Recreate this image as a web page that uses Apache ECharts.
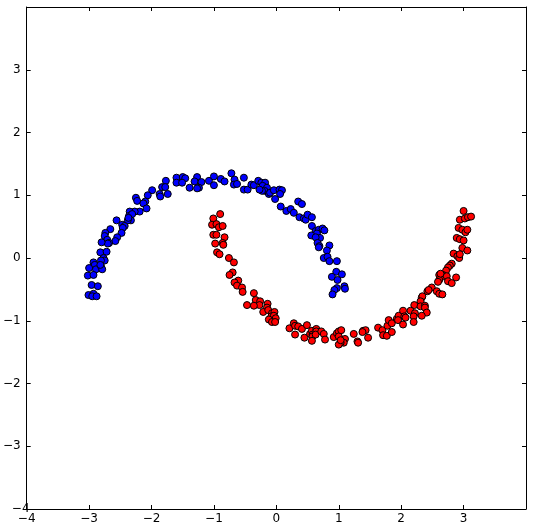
<!DOCTYPE html>
<html>
<head>
<meta charset="utf-8">
<script src="https://cdn.jsdelivr.net/npm/echarts@6/dist/echarts.min.js"></script>
<style>
	html, body { margin: 0; padding: 0; background: #fff; }
	#chart { width: 533px; height: 530px; }
</style>
</head>
<body>
<div id="chart"></div>
<script>
// axis range
var axisMin = -4;
var axisMax = 4;

// upper moon (blue)
var blueMoon = [
	[-1.77,1.23],[-1.60,1.28],[-1.60,1.20],[-1.50,1.29],[-1.46,1.27],[-1.51,1.20],[-1.39,1.12],[-1.27,1.29],
	[-1.31,1.22],[-1.20,1.21],[-1.24,1.12],[-1.27,1.11],[-1.08,1.23],[-1.83,1.13],[-1.78,1.13],[-1.74,1.02],
	[-1.87,1.02],[-1.86,0.98],[-1.99,1.08],[-2.06,1.00],[-2.25,0.96],[-2.23,0.91],[-2.10,0.90],[-2.13,0.87],
	[-2.08,0.79],[-2.19,0.74],[-2.27,0.74],[-2.35,0.74],[-2.36,0.67],[-2.31,0.70],[-2.33,0.60],[-2.38,0.60],
	[-2.37,0.64],[-2.56,0.60],[-2.47,0.53],[-2.43,0.51],[-2.46,0.48],[-2.48,0.40],[-2.66,0.46],[-2.74,0.40],
	[-2.75,0.35],[-2.55,0.33],[-2.58,0.27],[-2.71,0.29],[-2.68,0.24],[-2.70,0.23],[-2.80,0.25],[-2.82,0.09],
	[-2.72,0.10],[-2.77,0.00],[-2.75,-0.04],[-2.81,-0.04],[-2.93,-0.07],[-2.91,-0.11],[-3.00,-0.16],[-2.89,-0.18],
	[-2.81,-0.13],[-2.79,-0.18],[-2.82,-0.11],[-3.02,-0.28],[-2.93,-0.27],[-2.96,-0.43],[-2.86,-0.45],[-3.01,-0.59],
	[-2.93,-0.57],[-2.95,-0.61],[-2.88,-0.61],
	[-1.00,1.30],[-1.00,1.16],[-0.89,1.26],[-0.83,1.22],[-0.72,1.35],[-0.67,1.25],[-0.68,1.17],[-0.63,1.18],
	[-0.52,1.28],[-0.52,1.09],[-0.46,1.09],[-0.40,1.17],[-0.36,1.16],[-0.29,1.23],[-0.24,1.20],[-0.18,1.20],
	[-0.22,1.15],[-0.15,1.12],[-0.19,1.07],[-0.23,1.07],[-0.27,1.09],[-0.12,1.02],[-0.10,1.04],[-0.04,1.08],
	[0.05,1.09],[0.09,1.08],[0.06,1.02],[-0.02,0.94],[0.07,0.82],[0.35,0.90],[0.41,0.86],[0.16,0.75],
	[0.23,0.78],[0.28,0.72],[0.37,0.65],[0.44,0.63],[0.47,0.61],[0.50,0.69],[0.57,0.65],[0.57,0.51],
	[0.63,0.43],[0.68,0.45],[0.74,0.47],[0.77,0.44],[0.65,0.39],[0.70,0.32],[0.56,0.36],[0.63,0.33],
	[0.66,0.24],[0.69,0.19],[0.68,0.17],[0.85,0.20],[0.81,0.12],[0.76,0.00],[0.82,0.02],[0.85,-0.05],
	[0.97,-0.05],[0.96,-0.22],[1.05,-0.26],[0.89,-0.30],[0.98,-0.35],[1.09,-0.45],[0.97,-0.48],[0.93,-0.51],
	[0.90,-0.58],[1.10,-0.49]
];

// lower moon (red)
var redMoon = [
	[-0.90,0.70],[-1.01,0.63],[-1.03,0.53],[-0.96,0.54],[-0.92,0.49],[-0.86,0.51],[-1.01,0.37],[-0.96,0.37],
	[-0.83,0.33],[-0.98,0.23],[-0.86,0.24],[-0.85,0.21],[-0.95,0.09],[-0.91,0.06],[-0.76,0.00],[-0.68,-0.07],
	[-0.70,-0.23],[-0.75,-0.27],[-0.61,-0.36],[-0.67,-0.39],[-0.63,-0.44],[-0.55,-0.47],[-0.54,-0.54],[-0.36,-0.56],
	[-0.33,-0.67],[-0.26,-0.69],[-0.27,-0.75],[-0.47,-0.75],[-0.36,-0.76],[-0.14,-0.73],[-0.15,-0.79],[-0.21,-0.86],
	[-0.13,-0.83],[-0.07,-0.88],[-0.03,-0.86],[-0.08,-0.93],[-0.04,-0.92],[-0.01,-0.96],[-0.12,-0.98],[-0.07,-1.02],
	[-0.02,-1.02],
	[0.21,-1.12],[0.28,-1.04],[0.30,-1.08],[0.35,-1.09],[0.41,-1.13],[0.49,-1.07],[0.30,-1.22],[0.45,-1.27],
	[0.54,-1.21],[0.57,-1.16],[0.58,-1.22],[0.58,-1.25],[0.64,-1.13],[0.64,-1.17],[0.63,-1.22],[0.57,-1.32],
	[0.72,-1.17],[0.76,-1.21],[0.78,-1.30],[0.92,-1.26],[0.97,-1.20],[1.00,-1.17],[1.00,-1.25],[1.04,-1.15],
	[1.10,-1.29],[1.08,-1.35],[1.03,-1.35],[1.00,-1.38],[1.03,-1.31],[1.24,-1.21],[1.30,-1.33],[1.31,-1.35],
	[1.39,-1.16],[1.43,-1.15],[1.38,-1.18],[1.47,-1.27],[1.63,-1.11],[1.70,-1.15],[1.71,-1.23],[1.77,-1.24],
	[1.78,-1.08],[1.80,-0.99],[1.85,-1.04],[1.85,-1.18],[1.93,-0.97],[1.96,-0.92],[1.95,-0.99],
	[3.00,0.75],[2.94,0.61],[3.02,0.63],[3.07,0.65],[3.12,0.66],[2.92,0.48],[2.98,0.45],[3.03,0.41],
	[3.06,0.45],[2.89,0.32],[2.94,0.30],[3.00,0.28],[2.98,0.16],[3.06,0.12],[2.84,0.07],[2.90,0.03],
	[2.93,0.00],[2.94,0.06],[2.81,-0.09],[2.78,-0.12],[2.75,-0.15],[2.72,-0.20],[2.67,-0.27],[2.61,-0.27],
	[2.68,-0.29],[2.73,-0.29],[2.61,-0.35],[2.59,-0.38],[2.75,-0.37],[2.81,-0.40],[2.88,-0.31],[2.63,-0.25],
	[2.49,-0.47],[2.42,-0.53],[2.44,-0.51],[2.57,-0.53],[2.61,-0.57],[2.66,-0.58],[2.33,-0.63],[2.34,-0.61],
	[2.31,-0.69],[2.21,-0.75],[2.31,-0.77],[2.38,-0.76],[2.38,-0.79],[2.41,-0.87],[2.33,-0.92],[2.15,-0.84],
	[2.03,-0.84],[2.22,-0.88],[2.20,-0.93],[2.05,-0.93],[2.07,-0.95],[2.03,-1.06],[2.20,-1.02]
];

function tickText(value) {
	if (value >= axisMax) {
		return '';
	}
	return String(value).replace('-', '\u2212');
}

function makeAxis(type, pos, labels) {
	return {
		type: 'value',
		position: pos,
		min: axisMin,
		max: axisMax,
		interval: 1,
		axisLine: {show: true, onZero: false, lineStyle: {color: '#000', width: 1}},
		axisTick: {show: true, inside: true, length: 4, lineStyle: {color: '#000'}},
		axisLabel: {
			show: labels,
			formatter: tickText,
			color: '#000',
			fontSize: 12,
			fontFamily: 'DejaVu Sans',
			margin: type == 'x' ? 4 : 6,
			alignMinLabel: 'center',
			alignMaxLabel: 'center'
		},
		splitLine: {show: false}
	};
}

var myChart = echarts.init(document.getElementById('chart'), null, {renderer: 'canvas'});
var option = {
	animation: false,
	backgroundColor: '#fff',
	grid: {left: 24, right: 7, top: 7, bottom: 21, containLabel: false},
	xAxis: [makeAxis('x', 'bottom', true), makeAxis('x', 'top', false)],
	yAxis: [makeAxis('y', 'left', true), makeAxis('y', 'right', false)],
	series: [
		{
			type: 'scatter',
			data: blueMoon,
			symbolSize: 7,
			itemStyle: {color: '#0000ff', borderColor: '#000', borderWidth: 1, opacity: 1}
		},
		{
			type: 'scatter',
			data: redMoon,
			symbolSize: 7,
			itemStyle: {color: '#ff0000', borderColor: '#000', borderWidth: 1, opacity: 1}
		}
	]
};
myChart.setOption(option);
</script>
</body>
</html>
